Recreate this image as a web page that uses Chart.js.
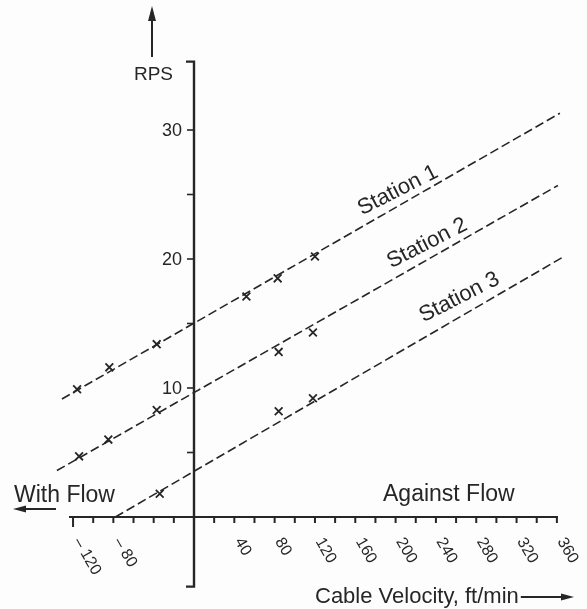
<!DOCTYPE html>
<html><head><meta charset="utf-8">
<script src="https://cdn.jsdelivr.net/npm/chart.js"></script>
<style>html,body{margin:0;padding:0;background:#fdfdfd;}canvas{display:block;}</style>
</head><body>
<canvas id="c" width="587" height="609"></canvas>
<script>
// ---- data ----
const station1X = [-116, -84, -37, 52, 83, 120];
const station1Y = [9.9, 11.6, 13.4, 17.1, 18.5, 20.2];
const station2X = [-114, -85, -37, 84, 118];
const station2Y = [4.7, 6.0, 8.3, 12.8, 14.3];
const station3X = [-34, 84, 118];
const station3Y = [1.8, 8.2, 9.2];
// fitted (dashed) lines, end points
const line1X = [-131, 363];
const line1Y = [9.15, 31.3];
const line2X = [-136, 361];
const line2Y = [3.6, 25.7];
const line3X = [-78, 365];
const line3Y = [0, 20.1];
const seriesNames = ['Station 1', 'Station 2', 'Station 3'];
// ticks
const xTickValues = [-120,-100,-80,-60,-40,-20,0,20,40,60,80,100,120,140,160,180,200,220,240,260,280,300,320,340,360];
const xLabelValues = [-120,-80,40,80,120,160,200,240,280,320,360];
const xLabelTexts = ['\u2013 120','\u2013 80','40','80','120','160','200','240','280','320','360'];
const yTickValues = [5,10,15,20,25,30];
const yLabelValues = [10,20,30];
const yLabelTexts = ['10','20','30'];

const pts = (xs, ys) => xs.map((x, i) => ({x: x, y: ys[i]}));
const INK = '#262626';
const FONT = '"Liberation Sans", Arial, sans-serif';

function arrow(ctx, x1, y1, x2, y2, head, half) {
  const a = Math.atan2(y2 - y1, x2 - x1);
  ctx.beginPath(); ctx.moveTo(x1, y1);
  ctx.lineTo(x2 - Math.cos(a) * head * 0.8, y2 - Math.sin(a) * head * 0.8); ctx.stroke();
  ctx.beginPath(); ctx.moveTo(x2, y2);
  ctx.lineTo(x2 - Math.cos(a) * head - Math.sin(a) * half, y2 - Math.sin(a) * head + Math.cos(a) * half);
  ctx.lineTo(x2 - Math.cos(a) * head + Math.sin(a) * half, y2 - Math.sin(a) * head - Math.cos(a) * half);
  ctx.closePath(); ctx.fill();
}

const decor = {
  id: 'decor',
  beforeDraw(chart) {
    const ctx = chart.ctx;
    ctx.save(); ctx.fillStyle = '#fdfdfd'; ctx.fillRect(0, 0, chart.width, chart.height); ctx.restore();
  },
  beforeDatasetsDraw(chart) {
    const ctx = chart.ctx, xs = chart.scales.x, ys = chart.scales.y;
    const x0 = xs.getPixelForValue(0), y0 = ys.getPixelForValue(0);
    ctx.save();
    ctx.strokeStyle = INK; ctx.fillStyle = INK; ctx.lineCap = 'butt';
    // x axis
    ctx.lineWidth = 2;
    ctx.beginPath(); ctx.moveTo(xs.getPixelForValue(-124), y0); ctx.lineTo(xs.getPixelForValue(361), y0); ctx.stroke();
    xTickValues.forEach(v => {
      if (v === 0) return;
      const px = xs.getPixelForValue(v);
      ctx.beginPath(); ctx.moveTo(px, y0 - 1); ctx.lineTo(px, y0 + (v === -120 ? 10 : 6)); ctx.stroke();
    });
    // y axis with bracket ends
    const yTop = ys.getPixelForValue(35.3), yBot = ys.getPixelForValue(-5.4);
    ctx.lineWidth = 2.4;
    ctx.beginPath();
    ctx.moveTo(x0 - 8, yTop); ctx.lineTo(x0, yTop); ctx.lineTo(x0, yBot); ctx.lineTo(x0 - 8, yBot);
    ctx.stroke();
    ctx.lineWidth = 1.6;
    yTickValues.forEach(v => {
      const py = ys.getPixelForValue(v);
      ctx.beginPath(); ctx.moveTo(x0 - 7, py); ctx.lineTo(x0, py); ctx.stroke();
    });
    ctx.restore();
  },
  afterDraw(chart) {
    const ctx = chart.ctx, xs = chart.scales.x, ys = chart.scales.y;
    const x0 = xs.getPixelForValue(0), y0 = ys.getPixelForValue(0);
    ctx.save();
    ctx.fillStyle = INK; ctx.strokeStyle = INK;
    // x tick labels, rotated
    ctx.font = '16px ' + FONT; ctx.textAlign = 'left'; ctx.textBaseline = 'middle';
    xLabelValues.forEach((v, i) => {
      const px = xs.getPixelForValue(v) + 4;
      ctx.save(); ctx.translate(px, y0 + 22); ctx.rotate(Math.PI / 3);
      ctx.fillText(xLabelTexts[i], 0, 0); ctx.restore();
    });
    // y tick labels
    ctx.font = '18px ' + FONT; ctx.textAlign = 'right';
    yLabelValues.forEach((v, i) => {
      ctx.fillText(yLabelTexts[i], x0 - 12, ys.getPixelForValue(v) + 1);
    });
    // axis titles
    ctx.textBaseline = 'alphabetic';
    ctx.font = '19px ' + FONT; ctx.textAlign = 'right';
    ctx.fillText('RPS', 173, 80);
    ctx.lineWidth = 2;
    arrow(ctx, 152, 57, 152, 6, 15, 4);
    ctx.font = '23px ' + FONT; ctx.textAlign = 'left';
    ctx.fillText('With Flow', 14, 502);
    arrow(ctx, 56, 509, 13, 509, 13, 3.5);
    ctx.fillText('Against Flow', 383, 501);
    ctx.font = '22px ' + FONT;
    const cv = 'Cable Velocity, ft/min';
    ctx.fillText(cv, 315, 603);
    const cvEnd = 315 + ctx.measureText(cv).width;
    arrow(ctx, cvEnd + 2, 597, 574, 597, 13, 3.5);
    // station labels along the lines
    const labelPos = [[205, 24.9], [234, 20.8], [266, 16.6]];
    ctx.font = '22px ' + FONT; ctx.textAlign = 'center';
    labelPos.forEach((p, i) => {
      ctx.save();
      ctx.translate(xs.getPixelForValue(p[0]), ys.getPixelForValue(p[1]));
      ctx.rotate(-27 * Math.PI / 180);
      ctx.fillText(seriesNames[i], 0, 0);
      ctx.restore();
    });
    ctx.restore();
  }
};

const lineStyle = {showLine: true, borderColor: INK, borderWidth: 1.6, borderDash: [9, 4], pointRadius: 0, fill: false};
const markStyle = {showLine: false, pointStyle: 'crossRot', pointRadius: 5.5, borderColor: INK, pointBorderWidth: 1.8, backgroundColor: INK};

new Chart(document.getElementById('c'), {
  type: 'scatter',
  data: {
    datasets: [
      Object.assign({label: seriesNames[0] + ' fit', data: pts(line1X, line1Y)}, lineStyle),
      Object.assign({label: seriesNames[1] + ' fit', data: pts(line2X, line2Y)}, lineStyle),
      Object.assign({label: seriesNames[2] + ' fit', data: pts(line3X, line3Y)}, lineStyle),
      Object.assign({label: seriesNames[0], data: pts(station1X, station1Y)}, markStyle),
      Object.assign({label: seriesNames[1], data: pts(station2X, station2Y)}, markStyle),
      Object.assign({label: seriesNames[2], data: pts(station3X, station3Y)}, markStyle)
    ]
  },
  options: {
    responsive: false, animation: false, devicePixelRatio: 1,
    layout: {padding: {left: 42.8, right: 9.96, top: 52.6, bottom: 14.6}},
    scales: {
      x: {type: 'linear', min: -150, max: 380, display: false},
      y: {type: 'linear', min: -6, max: 36, display: false}
    },
    plugins: {legend: {display: false}, tooltip: {enabled: false}},
    elements: {line: {tension: 0}}
  },
  plugins: [decor]
});
</script>
</body></html>
